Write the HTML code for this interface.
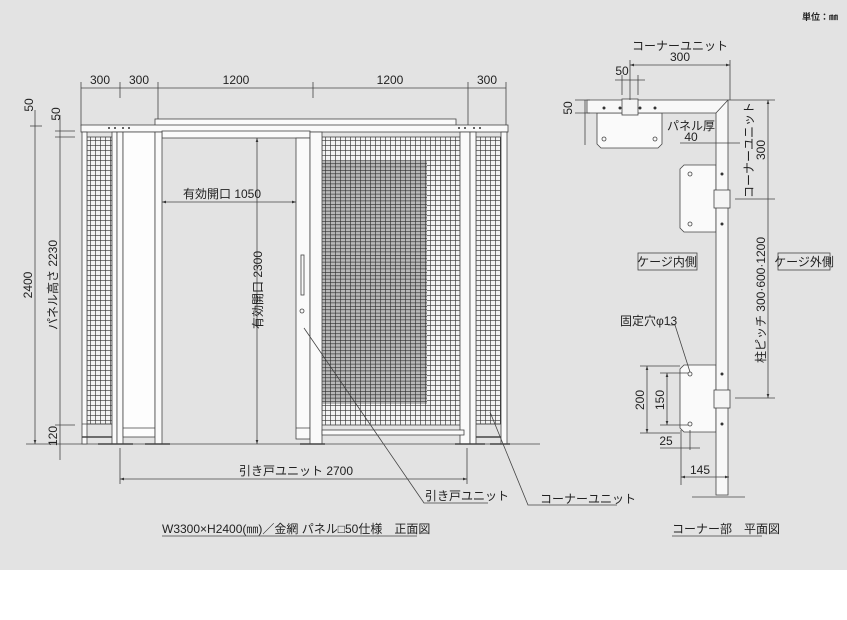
<!DOCTYPE html>
<html><head><meta charset="utf-8"><style>
html,body{margin:0;padding:0;background:#fff;}
svg{display:block;}
text{font-family:"Liberation Sans","Noto Sans CJK JP",sans-serif;fill:#222;}
</style></head><body>
<svg width="847" height="620" viewBox="0 0 847 620" xmlns="http://www.w3.org/2000/svg">
<defs>
<pattern id="m1" width="5" height="5" patternUnits="userSpaceOnUse">
<rect width="5" height="5" fill="#f2f2f2"/>
<path d="M0 0H5M0 0V5" stroke="#333" stroke-width="1.3"/>
</pattern>
<pattern id="m2" width="5" height="3.4" patternUnits="userSpaceOnUse">
<rect width="5" height="3.4" fill="#b8b8b8"/>
<path d="M0 0H5M0 0V3.4" stroke="#2a2a2a" stroke-width="1.2"/>
</pattern>
<marker id="a" viewBox="0 0 6 6" refX="6" refY="3" markerWidth="5" markerHeight="5" orient="auto-start-reverse"><path d="M0 1L6 3L0 5z" fill="#333"/></marker>
</defs>
<rect width="847" height="570" fill="#e3e3e3"/>
<g stroke="#444" stroke-width="0.8" fill="none">
<line x1="26" y1="444" x2="540" y2="444"/>
<line x1="81" y1="88" x2="506" y2="88"/>
<path d="M81 82V126M120 82V98M158 82V126M313 82V98M468 82V126M506 82V126"/>
</g>
<g font-size="12" text-anchor="middle">
<text x="100" y="84">300</text><text x="139" y="84">300</text><text x="236" y="84">1200</text><text x="390" y="84">1200</text><text x="487" y="84">300</text>
</g>
<g stroke="#444" stroke-width="0.8">
<rect x="155" y="119" width="301" height="7" fill="#fafafa"/>
<rect x="81" y="125" width="427" height="7" fill="#fafafa"/>
<rect x="162" y="131" width="148" height="7" fill="#fafafa"/>
<rect x="87" y="137" width="25" height="287" fill="url(#m1)"/>
<rect x="476" y="137" width="25" height="287" fill="url(#m1)"/>
<rect x="322" y="137" width="138" height="288" fill="url(#m1)"/>
<rect x="322" y="160" width="105" height="244" fill="url(#m2)" stroke="none"/>
<rect x="82" y="132" width="5" height="312" fill="#fafafa"/>
<rect x="112" y="132" width="5" height="312" fill="#fafafa"/>
<rect x="117" y="132" width="6" height="312" fill="#fafafa"/>
<rect x="123" y="132" width="32" height="305" fill="#fdfdfd"/>
<rect x="155" y="132" width="7" height="312" fill="#fafafa"/>
<rect x="296" y="138" width="14" height="301" fill="#fafafa"/>
<rect x="310" y="132" width="12" height="312" fill="#fafafa"/>
<rect x="460" y="132" width="10" height="312" fill="#fafafa"/>
<rect x="470" y="132" width="6" height="312" fill="#fafafa"/>
<rect x="501" y="132" width="6" height="312" fill="#fafafa"/>
<rect x="322" y="430" width="142" height="5" fill="#fafafa"/>
<rect x="301" y="255" width="3" height="40" fill="none"/>
<circle cx="302" cy="311" r="2" fill="none"/>
<path d="M82 424H112M476 424H501M123 428H155M296 428H310" fill="none"/>
<path d="M82 437H112M476 437H501M98 444H112M107 444H133M145 444H170M300 444H325M455 444H485M490 444H510" fill="none" stroke-width="1.5"/>
</g>
<g fill="#333"><circle cx="109" cy="128" r="1"/><circle cx="115" cy="128" r="1"/><circle cx="123" cy="128" r="1"/><circle cx="129" cy="128" r="1"/><circle cx="459" cy="128" r="1"/><circle cx="465" cy="128" r="1"/><circle cx="474" cy="128" r="1"/><circle cx="480" cy="128" r="1"/></g>
<g stroke="#444" stroke-width="0.8" fill="none">
<line x1="35" y1="110" x2="35" y2="444" marker-end="url(#a)"/>
<line x1="30" y1="126" x2="42" y2="126"/>
<line x1="60" y1="115" x2="60" y2="460"/>
<path d="M55 131H75M55 425H75M55 137H75"/>
<line x1="162" y1="202" x2="296" y2="202" marker-start="url(#a)" marker-end="url(#a)"/>
<line x1="257" y1="138" x2="257" y2="444" marker-start="url(#a)" marker-end="url(#a)"/>
<line x1="120" y1="479" x2="467" y2="479" marker-start="url(#a)" marker-end="url(#a)"/>
<path d="M120 448V484M467 448V484"/>
<path d="M304 328L424 503H488M490 412L528 505H617"/>
<path d="M162 536H417M672 536H762"/>
</g>
<g font-size="12">
<text transform="translate(33,105) rotate(-90)" text-anchor="middle">50</text>
<text transform="translate(60,114) rotate(-90)" text-anchor="middle">50</text>
<text transform="translate(32,285) rotate(-90)" text-anchor="middle">2400</text>
<text transform="translate(57,285) rotate(-90)" text-anchor="middle">パネル高さ 2230</text>
<text transform="translate(57,436) rotate(-90)" text-anchor="middle">120</text>
<text transform="translate(262,290) rotate(-90)" text-anchor="middle">有効開口 2300</text>
<text x="222" y="198" text-anchor="middle">有効開口 1050</text>
<text x="296" y="475" text-anchor="middle">引き戸ユニット 2700</text>
<text x="425" y="500">引き戸ユニット</text>
<text x="540" y="503">コーナーユニット</text>
<text x="162" y="533">W3300×H2400(㎜)／金網 パネル□50仕様　正面図</text>
<text x="672" y="533">コーナー部　平面図</text>
<text x="838" y="20" text-anchor="end" font-size="9" font-weight="bold">単位：㎜</text>
</g>
<g stroke="#444" stroke-width="0.8">
<path d="M597 113H662V144L658 148H601L597 144Z" fill="#fafafa"/>
<path d="M684 165H716V232H684L680 228V169Z" fill="#fafafa"/>
<path d="M684 365H716V432H684L680 428V369Z" fill="#fafafa"/>
<path d="M587 100H728V495H716V113H587Z" fill="#f8f8f8"/>
<path d="M716 113L728 100" fill="none"/>
<rect x="622" y="99" width="16" height="16" fill="#f4f4f4"/>
<rect x="714" y="190" width="16" height="18" fill="#f4f4f4"/>
<rect x="714" y="390" width="16" height="18" fill="#f4f4f4"/>
<circle cx="604" cy="139" r="2" fill="none"/><circle cx="655" cy="139" r="2" fill="none"/>
<circle cx="690" cy="174" r="2" fill="none"/><circle cx="690" cy="224" r="2" fill="none"/>
<circle cx="690" cy="374" r="2" fill="none"/><circle cx="690" cy="424" r="2" fill="none"/>
</g>
<g fill="#333"><circle cx="604" cy="108" r="1.5"/><circle cx="620" cy="108" r="1.5"/><circle cx="640" cy="108" r="1.5"/><circle cx="655" cy="108" r="1.5"/><circle cx="722" cy="174" r="1.5"/><circle cx="722" cy="224" r="1.5"/><circle cx="722" cy="374" r="1.5"/><circle cx="722" cy="424" r="1.5"/></g>
<g stroke="#444" stroke-width="0.8" fill="none">
<line x1="630" y1="65" x2="730" y2="65" marker-start="url(#a)" marker-end="url(#a)"/>
<path d="M630 60V100M730 60V100M622 75V95M638 75V95M615 80H645"/>
<path d="M585 100V145M575 100H590M575 113H590"/>
<line x1="768" y1="100" x2="768" y2="398" marker-start="url(#a)" marker-end="url(#a)"/>
<path d="M728 100H775M735 199H775M735 398H775M680 143H740"/>
<path d="M668 325H675L690 372"/>
<line x1="647" y1="366" x2="647" y2="433" marker-start="url(#a)" marker-end="url(#a)"/>
<path d="M640 366H680M640 433H680"/>
<line x1="667" y1="373" x2="667" y2="425" marker-start="url(#a)" marker-end="url(#a)"/>
<path d="M660 373H688M660 425H688M681 430V485M690 430V450M660 448H700"/>
<line x1="681" y1="477" x2="729" y2="477" marker-start="url(#a)" marker-end="url(#a)"/>
<path d="M692 497H745"/>
<rect x="638" y="253" width="59" height="17" fill="#e3e3e3"/>
<rect x="778" y="253" width="52" height="17" fill="#e3e3e3"/>
</g>
<g font-size="12">
<text x="680" y="50" text-anchor="middle">コーナーユニット</text>
<text x="680" y="61" text-anchor="middle">300</text>
<text x="622" y="75" text-anchor="middle">50</text>
<text transform="translate(572,108) rotate(-90)" text-anchor="middle">50</text>
<text x="691" y="130" text-anchor="middle">パネル厚</text>
<text x="691" y="141" text-anchor="middle">40</text>
<text transform="translate(753,150) rotate(-90)" text-anchor="middle">コーナーユニット</text>
<text transform="translate(765,150) rotate(-90)" text-anchor="middle">300</text>
<text transform="translate(765,300) rotate(-90)" text-anchor="middle">柱ピッチ 300·600·1200</text>
<text x="667" y="266" text-anchor="middle">ケージ内側</text>
<text x="804" y="266" text-anchor="middle">ケージ外側</text>
<text x="620" y="325">固定穴φ13</text>
<text transform="translate(644,400) rotate(-90)" text-anchor="middle">200</text>
<text transform="translate(664,400) rotate(-90)" text-anchor="middle">150</text>
<text x="666" y="445" text-anchor="middle">25</text>
<text x="700" y="474" text-anchor="middle">145</text>
</g>
</svg>
</body></html>
